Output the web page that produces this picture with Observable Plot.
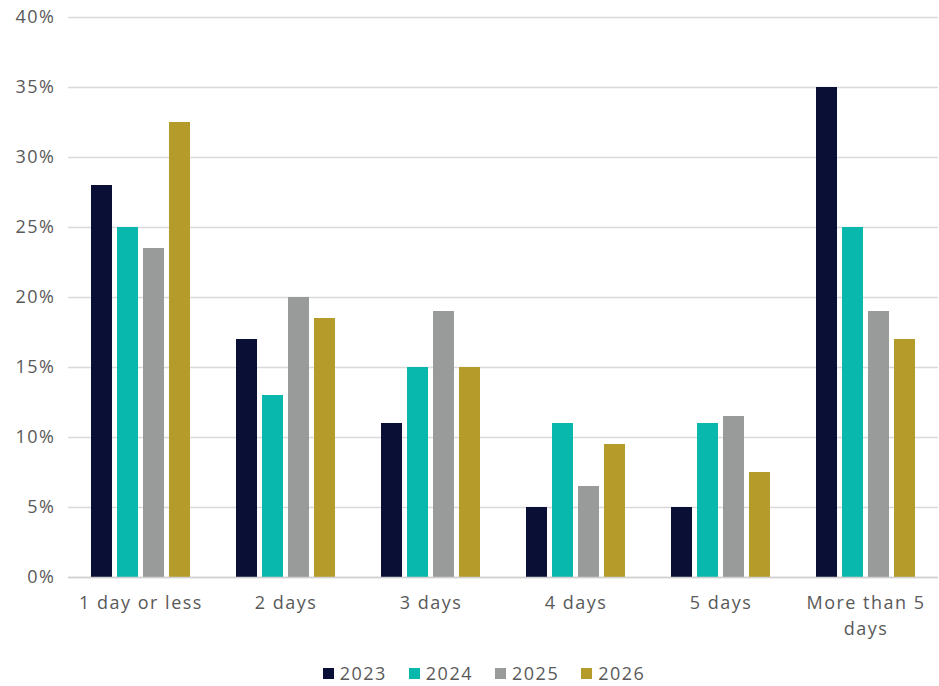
<!DOCTYPE html>
<html>
<head>
<meta charset="utf-8">
<script src="https://cdn.jsdelivr.net/npm/d3@7"></script>
<script src="https://cdn.jsdelivr.net/npm/@observablehq/plot@0.6"></script>
<style>
  html, body { margin: 0; padding: 0; background: #fff; }
  #wrap { width: 939px; font-family: "Open Sans", sans-serif; color: #595959; }
  .legend { display: flex; justify-content: center; gap: 22px; font-size: 18px; letter-spacing: 1.5px; margin-top: 14px; margin-left: 29px; line-height: 1; }
  .legend span.item { display: flex; align-items: center; }
  .legend span.sw { display: inline-block; width: 11px; height: 11px; margin-right: 6px; }
</style>
</head>
<body>
<div id="wrap"></div>
<script>
const categories = ["1 day or less", "2 days", "3 days", "4 days", "5 days", "More than 5 days"];
const years = ["2023", "2024", "2025", "2026"];
const colors = ["#0A1035", "#08B8AC", "#999B9B", "#B59C2A"];
const values2023 = [28, 17, 11, 5, 5, 35];
const values2024 = [25, 13, 15, 11, 11, 25];
const values2025 = [23.5, 20, 19, 6.5, 11.5, 19];
const values2026 = [32.5, 18.5, 15, 9.5, 7.5, 17];
const yTicks = [0, 5, 10, 15, 20, 25, 30, 35, 40];

const series = [values2023, values2024, values2025, values2026];
const data = [];
categories.forEach((c, i) => years.forEach((y, j) => data.push({cat: c, year: y, value: series[j][i]})));

const chart = Plot.plot({
  width: 939,
  height: 650,
  marginLeft: 67,
  marginRight: 1,
  marginTop: 17,
  marginBottom: 73,
  style: {fontFamily: "'Open Sans', sans-serif", fontSize: "18px", color: "#595959", background: "#fff", letterSpacing: "1.5px"},
  fx: {domain: categories, padding: 0, label: null, axis: null},
  x: {domain: years, paddingInner: 0.19, paddingOuter: 0.88, axis: null},
  y: {domain: [0, 40], label: null, axis: null},
  color: {domain: years, range: colors},
  marks: [
    Plot.gridY(yTicks, {stroke: "#d9d9d9", strokeOpacity: 1, strokeWidth: 1.5}),
    Plot.axisY(yTicks, {anchor: "left", tickSize: 0, tickPadding: 13, tickFormat: d => d + "%", label: null, fill: "#595959"}),
    Plot.axisFx({anchor: "bottom", tickSize: 0, tickPadding: 13, label: null, lineHeight: 1.45, fill: "#595959",
                 tickFormat: d => d === "More than 5 days" ? "More than 5\ndays" : d}),
    Plot.barY(data, {fx: "cat", x: "year", y: "value", fill: "year"}),
    Plot.ruleY([0], {stroke: "#d0d0d0", strokeWidth: 1.5})
  ]
});
document.getElementById("wrap").appendChild(chart);

const legend = document.createElement("div");
legend.className = "legend";
years.forEach((y, i) => {
  const item = document.createElement("span");
  item.className = "item";
  const sw = document.createElement("span");
  sw.className = "sw";
  sw.style.background = colors[i];
  item.appendChild(sw);
  item.appendChild(document.createTextNode(y));
  legend.appendChild(item);
});
document.getElementById("wrap").appendChild(legend);
</script>
</body>
</html>
